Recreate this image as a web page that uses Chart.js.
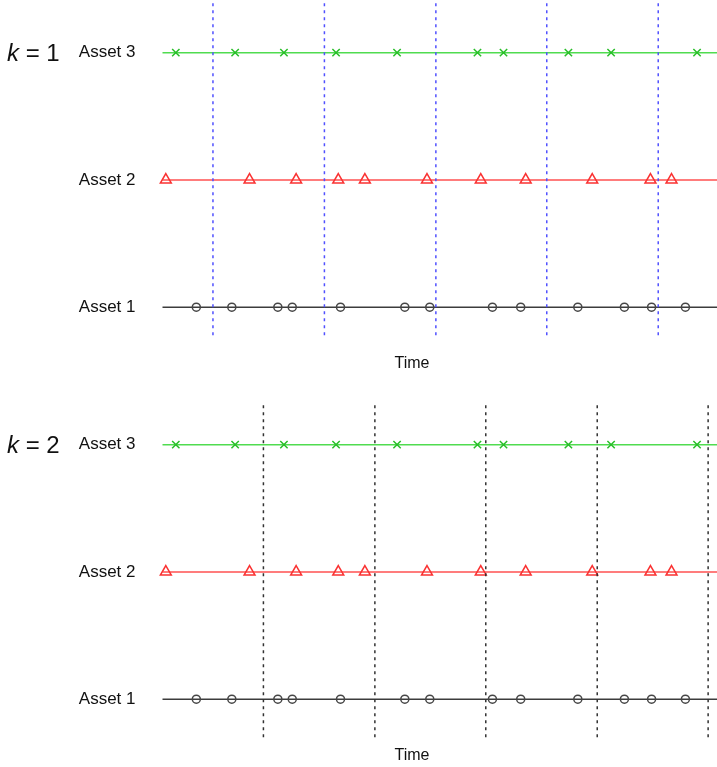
<!DOCTYPE html>
<html>
<head>
<meta charset="utf-8">
<script src="https://cdn.jsdelivr.net/npm/chart.js@4.4.1/dist/chart.umd.min.js"></script>
<style>
  html, body { margin: 0; padding: 0; background: #ffffff; }
  body { width: 717px; height: 767px; position: relative; overflow: hidden; font-family: 'Liberation Sans', Arial, Helvetica, sans-serif; }
  .panel { position: absolute; left: 0; width: 717px; height: 392px; }
  .klabel { position: absolute; left: 7px; font-size: 24px; line-height: 24px; color: #111; white-space: nowrap; }
</style>
</head>
<body>
<div class="panel" id="p1" style="top:-11px"><canvas id="c1" width="717" height="392"></canvas></div>
<div class="panel" id="p2" style="top:381px"><canvas id="c2" width="717" height="392"></canvas></div>
<div class="klabel" style="top:41px"><i>k</i> = 1</div>
<div class="klabel" style="top:433px"><i>k</i> = 2</div>
<script>
// ---- data (time units; series start at 0) ----
const assetLabels = ['Asset 1', 'Asset 2', 'Asset 3'];
const seriesStart = 0;
const seriesEnd = 10;
const asset1Times = [0.61, 1.25, 2.08, 2.34, 3.21, 4.37, 4.82, 5.95, 6.46, 7.49, 8.33, 8.82, 9.43];
const asset2Times = [0.06, 1.57, 2.41, 3.17, 3.65, 4.77, 5.74, 6.55, 7.75, 8.80, 9.18];
const asset3Times = [0.24, 1.31, 2.19, 3.13, 4.23, 5.68, 6.15, 7.32, 8.09, 9.64];
const k1Boundaries = [0.91, 2.92, 4.93, 6.93, 8.94];
const k2Boundaries = [1.82, 3.83, 5.83, 7.84, 9.84];
const xAxisTitle = 'Time';
const titleCenterTime = 4.5;

// ---- styles ----
const FONT = "'Liberation Sans', Arial, Helvetica, sans-serif";
const assetStyles = [
  { line: 'rgb(60,60,60)', marker: 'rgb(70,70,70)', pointStyle: 'circle', radius: 4 },
  { line: 'rgb(255,80,80)', marker: 'rgb(250,50,50)', pointStyle: 'triangle', radius: 6.3 },
  { line: 'rgb(80,220,80)', marker: 'rgb(40,190,40)', pointStyle: 'crossRot', radius: 5.2 }
];

const timeTitlePlugin = {
  id: 'timeTitle',
  afterDraw(chart) {
    const ctx = chart.ctx;
    const x = chart.scales.x.getPixelForValue(titleCenterTime);
    const y = chart.chartArea.bottom + 18;
    ctx.save();
    ctx.fillStyle = '#111';
    ctx.font = '16px ' + FONT;
    ctx.textAlign = 'center';
    ctx.textBaseline = 'middle';
    ctx.fillText(xAxisTitle, x, y);
    ctx.restore();
  }
};

function buildDatasets(boundaries, boundaryColor, yLow, yHigh) {
  const ds = [];
  boundaries.forEach(b => {
    ds.push({
      type: 'line',
      data: [{ x: b, y: yLow }, { x: b, y: yHigh }],
      borderColor: boundaryColor,
      borderWidth: 1.5,
      borderDash: [3, 4],
      pointRadius: 0,
      clip: false
    });
  });
  const allTimes = [asset1Times, asset2Times, asset3Times];
  allTimes.forEach((times, i) => {
    const y = i + 1;
    const st = assetStyles[i];
    ds.push({
      type: 'scatter',
      data: times.map(t => ({ x: t, y: y })),
      showLine: false,
      pointStyle: st.pointStyle,
      pointRadius: st.radius,
      pointBorderColor: st.marker,
      pointBackgroundColor: 'rgba(0,0,0,0)',
      pointBorderWidth: 1.5,
      clip: false
    });
    ds.push({
      type: 'line',
      data: [{ x: seriesStart, y: y }, { x: seriesEnd, y: y }],
      borderColor: st.line,
      borderWidth: 1.5,
      pointRadius: 0,
      clip: false
    });
  });
  return ds;
}

function makeChart(canvasId, boundaries, boundaryColor, yLow, yHigh) {
  return new Chart(document.getElementById(canvasId), {
    type: 'scatter',
    data: { datasets: buildDatasets(boundaries, boundaryColor, yLow, yHigh) },
    plugins: [timeTitlePlugin],
    options: {
      responsive: false,
      animation: false,
      events: [],
      layout: { autoPadding: false, padding: { left: 0, right: 0, top: 0, bottom: 35 } },
      plugins: { legend: { display: false }, tooltip: { enabled: false } },
      scales: {
        x: {
          type: 'linear', min: seriesStart, max: seriesEnd,
          display: false
        },
        y: {
          type: 'linear', min: 0.695, max: 3.5,
          grid: { display: false, drawTicks: false },
          border: { display: false },
          afterBuildTicks: (scale) => { scale.ticks = [1, 2, 3].map(v => ({ value: v })); },
          afterFit: (scale) => { scale.width = 162.5; scale.paddingTop = 0; scale.paddingBottom = 0; },
          ticks: {
            padding: 27,
            color: '#111',
            font: { family: FONT, size: 17 },
            callback: (v) => assetLabels[Math.round(v) - 1] || ''
          }
        }
      }
    }
  });
}

makeChart('c1', k1Boundaries, 'rgb(80,80,255)', 0.78, 3.7);
makeChart('c2', k2Boundaries, 'rgb(50,50,50)', 0.70, 3.31);
</script>
</body>
</html>
